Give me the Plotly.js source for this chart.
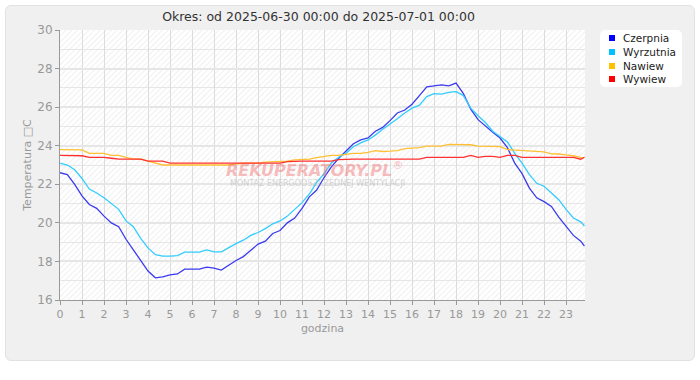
<!DOCTYPE html>
<html>
<head>
<meta charset="utf-8">
<script src="https://cdn.plot.ly/plotly-3.0.1.min.js"></script>
<style>
  html, body { margin: 0; padding: 0; background: #ffffff; }
  #wrap { position: relative; width: 700px; height: 380px; }
  #panel { position: absolute; left: 5px; top: 5px; width: 688px; height: 354px; background: #f0f0f0; border: 1px solid #e2e2e2; border-radius: 6px; }
  #legbox { position: absolute; left: 600px; top: 30px; width: 82px; height: 57px; background: #ffffff; border-radius: 5px; }
  #chart { position: absolute; left: 0; top: 0; width: 700px; height: 380px; }
</style>
</head>
<body>
<div id="wrap">
  <div id="panel"></div>
  <div id="legbox"></div>
  <div id="chart"></div>
</div>
<script>
const hours = [0, 0.333, 0.667, 1, 1.333, 1.667, 2, 2.333, 2.667, 3, 3.333, 3.667,
  4, 4.333, 4.667, 5, 5.333, 5.667, 6, 6.333, 6.667, 7, 7.333, 7.667,
  8, 8.333, 8.667, 9, 9.333, 9.667, 10, 10.333, 10.667, 11, 11.333, 11.667,
  12, 12.333, 12.667, 13, 13.333, 13.667, 14, 14.333, 14.667, 15, 15.333, 15.667,
  16, 16.333, 16.667, 17, 17.333, 17.667, 18, 18.333, 18.667, 19, 19.333, 19.667,
  20, 20.333, 20.667, 21, 21.333, 21.667, 22, 22.333, 22.667, 23, 23.333, 23.667, 23.833];

const czerpnia = [22.6, 22.5, 22.0, 21.4, 20.95, 20.75, 20.35, 20.0, 19.8, 19.15, 18.6, 18.05,
  17.5, 17.15, 17.2, 17.3, 17.35, 17.6, 17.6, 17.6, 17.7, 17.65, 17.55, 17.8,
  18.05, 18.25, 18.6, 18.9, 19.05, 19.45, 19.6, 20.0, 20.25, 20.75, 21.35, 21.7,
  22.35, 22.9, 23.35, 23.75, 24.1, 24.3, 24.4, 24.75, 24.95, 25.3, 25.7, 25.85,
  26.15, 26.6, 27.05, 27.1, 27.15, 27.1, 27.25, 26.7, 25.9, 25.35, 25.05, 24.7,
  24.4, 23.9, 23.1, 22.55, 21.8, 21.3, 21.1, 20.85, 20.3, 19.85, 19.35, 19.05, 18.8];

const wyrzutnia = [23.1, 23.0, 22.75, 22.3, 21.75, 21.55, 21.3, 21.0, 20.7, 20.1, 19.8, 19.2,
  18.7, 18.35, 18.28, 18.28, 18.3, 18.48, 18.48, 18.48, 18.6, 18.5, 18.5, 18.72,
  18.92, 19.1, 19.35, 19.5, 19.7, 19.95, 20.1, 20.35, 20.7, 21.05, 21.5, 22.1,
  22.55, 23.1, 23.4, 23.6, 23.95, 24.15, 24.3, 24.55, 24.85, 25.15, 25.4, 25.7,
  25.95, 26.1, 26.55, 26.7, 26.68, 26.77, 26.8, 26.6, 25.95, 25.55, 25.2, 24.75,
  24.47, 24.2, 23.6, 23.1, 22.5, 22.05, 21.9, 21.55, 21.2, 20.7, 20.25, 20.05, 19.84];

const nawiew = [23.8, 23.8, 23.8, 23.78, 23.6, 23.6, 23.6, 23.5, 23.5, 23.4, 23.3, 23.3,
  23.2, 23.1, 23.0, 23.0, 23.0, 23.0, 23.0, 23.0, 23.0, 23.0, 23.0, 23.0,
  23.05, 23.1, 23.1, 23.1, 23.15, 23.17, 23.2, 23.2, 23.27, 23.3, 23.3, 23.38,
  23.45, 23.5, 23.5, 23.55, 23.6, 23.6, 23.65, 23.75, 23.7, 23.72, 23.75, 23.85,
  23.86, 23.9, 23.98, 23.98, 23.98, 24.07, 24.07, 24.07, 24.05, 23.98, 23.98, 23.98,
  23.95, 23.8, 23.78, 23.75, 23.75, 23.72, 23.68, 23.58, 23.57, 23.52, 23.48, 23.4, 23.38];

const wywiew = [23.5, 23.5, 23.5, 23.48, 23.4, 23.4, 23.4, 23.35, 23.3, 23.3, 23.3, 23.3,
  23.2, 23.2, 23.2, 23.1, 23.1, 23.1, 23.1, 23.1, 23.1, 23.1, 23.1, 23.1,
  23.1, 23.1, 23.1, 23.1, 23.1, 23.1, 23.1, 23.17, 23.2, 23.2, 23.2, 23.2,
  23.2, 23.2, 23.28, 23.3, 23.3, 23.3, 23.3, 23.3, 23.3, 23.3, 23.3, 23.3,
  23.3, 23.3, 23.4, 23.4, 23.4, 23.4, 23.4, 23.4, 23.5, 23.4, 23.45, 23.45,
  23.4, 23.5, 23.5, 23.4, 23.4, 23.4, 23.4, 23.4, 23.4, 23.4, 23.4, 23.3, 23.4];

const seriesNames = ['Czerpnia', 'Wyrzutnia', 'Nawiew', 'Wywiew'];
const lineColors = ['#3a3af0', '#33ccff', '#ffc033', '#ff3030'];
const legendColors = ['#0000ff', '#00c0ff', '#ffc000', '#ff0000'];
const seriesData = [czerpnia, wyrzutnia, nawiew, wywiew];
const xTickVals = [0,1,2,3,4,5,6,7,8,9,10,11,12,13,14,15,16,17,18,19,20,21,22,23];

const traces = seriesData.map((ys, i) => ({
  x: hours, y: ys, type: 'scatter', mode: 'lines', name: seriesNames[i],
  line: {color: lineColors[i], width: 1.3}, showlegend: false
}));

// manual legend (entries placed in paper coordinates)
const legendY = [0.9704, 0.9185, 0.8667, 0.8185];
const legendShapes = seriesNames.map((n, i) => ({
  type: 'rect', xref: 'paper', yref: 'paper', xsizemode: 'pixel', ysizemode: 'pixel',
  xanchor: 1.0514, yanchor: legendY[i], x0: -3, x1: 3, y0: -3, y1: 3,
  fillcolor: legendColors[i], line: {width: 0}
}));
const legendAnn = seriesNames.map((n, i) => ({
  text: n, xref: 'paper', yref: 'paper', x: 1.0686, y: legendY[i], xanchor: 'left', yanchor: 'middle',
  showarrow: false, font: {size: 10.5, color: '#222222', family: 'DejaVu Sans, Verdana, sans-serif'}
}));

const hatch = "data:image/svg+xml;utf8," + encodeURIComponent(
  "<svg xmlns='http://www.w3.org/2000/svg' width='525' height='270'>" +
  "<defs><pattern id='p' width='4' height='4' patternUnits='userSpaceOnUse' patternTransform='rotate(45)'>" +
  "<rect width='4' height='4' fill='#ffffff'/><line x1='0' y1='0' x2='0' y2='4' stroke='#e9e9e9' stroke-width='1.3'/></pattern></defs>" +
  "<rect width='525' height='270' fill='url(#p)'/></svg>");

const layout = {
  width: 700, height: 380,
  margin: {l: 60, r: 115, t: 30, b: 80},
  paper_bgcolor: 'rgba(0,0,0,0)',
  plot_bgcolor: '#ffffff',
  showlegend: false,
  font: {family: 'DejaVu Sans, Verdana, sans-serif', color: '#999999', size: 11},
  title: {text: 'Okres: od 2025-06-30 00:00 do 2025-07-01 00:00', x: 0.455, xanchor: 'center', y: 0.955, yanchor: 'middle',
    font: {size: 12.5, color: '#333333', family: 'DejaVu Sans, Verdana, sans-serif'}},
  xaxis: {
    range: [0, 23.86], tickvals: xTickVals, ticktext: xTickVals.map(String),
    showgrid: true, gridcolor: '#dcdcdc', gridwidth: 1,
    showline: true, linecolor: '#999999', linewidth: 1,
    ticks: 'outside', ticklen: 4, tickcolor: '#999999',
    tickfont: {size: 11, color: '#999999'}, zeroline: false, fixedrange: true,
    title: {text: 'godzina', font: {size: 11, color: '#999999'}, standoff: 4}
  },
  yaxis: {
    range: [16, 30], dtick: 2, tick0: 16,
    showgrid: true, gridcolor: '#e6e6e6', gridwidth: 2,
    minor: {dtick: 1, showgrid: true, gridcolor: '#e6e6e6', gridwidth: 1, ticks: ''},
    showline: true, linecolor: '#999999', linewidth: 1,
    ticks: 'outside', ticklen: 4, tickcolor: '#999999',
    tickfont: {size: 12, color: '#999999'}, zeroline: false, fixedrange: true,
    title: {text: 'Temperatura \u25A1C', font: {size: 11, color: '#999999'}, standoff: 3}
  },
  images: [{source: hatch, xref: 'paper', yref: 'paper', x: 0, y: 1, sizex: 1, sizey: 1,
    sizing: 'stretch', layer: 'below', xanchor: 'left', yanchor: 'top'}],
  shapes: legendShapes,
  annotations: [
    {text: '<b><i>REKUPERATORY.PL</i></b><sup>®</sup>', xref: 'paper', yref: 'paper', x: 0.485, y: 0.485,
      showarrow: false, font: {size: 16, color: 'rgba(240,105,105,0.45)', family: 'DejaVu Sans, Verdana, sans-serif'}},
    {text: 'MONTAŻ ENERGOOSZCZĘDNEJ WENTYLACJI', xref: 'paper', yref: 'paper', x: 0.49, y: 0.432,
      showarrow: false, font: {size: 8, color: 'rgba(170,170,170,0.5)', family: 'DejaVu Sans, Verdana, sans-serif'}}
  ].concat(legendAnn),
  hovermode: 'closest'
};

Plotly.newPlot('chart', traces, layout, {displayModeBar: false});
</script>
</body>
</html>
